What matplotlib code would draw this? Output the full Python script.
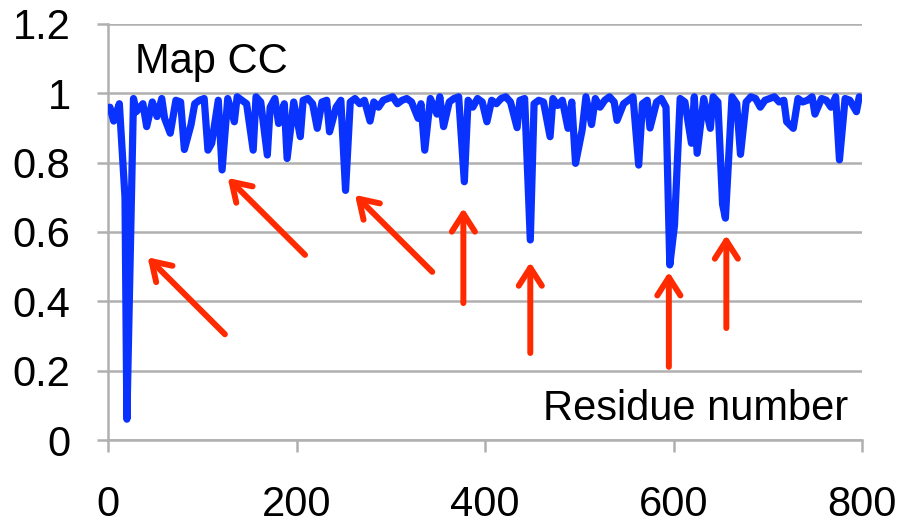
import numpy as np
import matplotlib
matplotlib.use('Agg')
import matplotlib.pyplot as plt
from matplotlib.ticker import FormatStrFormatter

plt.rcParams['font.family'] = ['Liberation Sans', 'DejaVu Sans']

# baseline map CC, residues 2, 7, 12, ... 797
base_cc = [
    0.96, 0.95, 0.97, 0.98, 0.97, 0.985, 0.98, 0.97, 0.99, 0.975, 0.98, 0.985, 0.97, 0.99, 0.98, 0.975, 0.985, 0.99, 0.97, 0.98,
    0.985, 0.97, 0.99, 0.98, 0.96, 0.985, 0.975, 0.99, 0.98, 0.97, 0.985, 0.99, 0.975, 0.98, 0.96, 0.985, 0.99, 0.97, 0.98, 0.975,
    0.99, 0.98, 0.985, 0.97, 0.99, 0.975, 0.98, 0.985, 0.96, 0.98, 0.99, 0.975, 0.985, 0.97, 0.98, 0.99, 0.975, 0.96, 0.98, 0.985,
    0.99, 0.97, 0.98, 0.985, 0.975, 0.99, 0.97, 0.98, 0.985, 0.965, 0.99, 0.98, 0.975, 0.985, 0.99, 0.97, 0.98, 0.96, 0.985, 0.975,
    0.99, 0.98, 0.97, 0.985, 0.99, 0.975, 0.96, 0.98, 0.985, 0.99, 0.97, 0.98, 0.975, 0.99, 0.985, 0.965, 0.98, 0.99, 0.975, 0.985,
    0.97, 0.99, 0.98, 0.985, 0.96, 0.98, 0.99, 0.975, 0.985, 0.97, 0.98, 0.99, 0.985, 0.97, 0.98, 0.99, 0.975, 0.985, 0.96, 0.98,
    0.99, 0.985, 0.975, 0.98, 0.99, 0.97, 0.985, 0.98, 0.99, 0.975, 0.98, 0.985, 0.99, 0.97, 0.98, 0.975, 0.99, 0.985, 0.96, 0.98,
    0.985, 0.99, 0.975, 0.98, 0.97, 0.99, 0.985, 0.975, 0.98, 0.99, 0.97, 0.985, 0.98, 0.96, 0.99, 0.975, 0.985, 0.98, 0.97, 0.99,
]
base_res = np.arange(2, 800, 5)

# dips
dip_res = [6, 18, 20, 30, 41, 52, 60, 66, 81, 88, 106, 110, 121, 134, 154, 169, 181, 190,
           204, 222, 235, 252, 278, 329, 336, 349, 356, 378, 402, 434, 448, 469, 488, 496,
           503, 513, 540, 563, 575, 596, 601, 619, 625, 639, 652, 655, 671, 720, 727, 750,
           776, 794]
dip_cc = [0.92, 0.70, 0.06, 0.947, 0.904, 0.933, 0.928, 0.885, 0.838, 0.909, 0.836, 0.856, 0.779, 0.918, 0.836, 0.822, 0.913, 0.812,
          0.875, 0.899, 0.889, 0.72, 0.92, 0.928, 0.836, 0.94, 0.904, 0.745, 0.918, 0.901, 0.577, 0.875, 0.899, 0.798,
          0.894, 0.91, 0.922, 0.793, 0.90, 0.505, 0.62, 0.856, 0.827, 0.899, 0.68, 0.64, 0.824, 0.918, 0.899, 0.94,
          0.808, 0.947]

# arrows: (tail x, tail y, head x, head y)
arrows = [(124, 0.305, 42, 0.527),
          (209, 0.534, 127, 0.756),
          (344, 0.485, 262, 0.707),
          (377, 0.395, 377, 0.669),
          (448, 0.251, 448, 0.513),
          (595, 0.211, 595, 0.485),
          (656, 0.323, 656, 0.591)]

dip_arr = np.array(dip_res)
keep = [i for i, r in enumerate(base_res) if np.min(np.abs(dip_arr - r)) > 2]
res = np.concatenate([base_res[keep], dip_arr])
cc = np.concatenate([np.array(base_cc)[keep], np.array(dip_cc)])
order = np.argsort(res)
res, cc = res[order], cc[order]

grey = '#b0b0b0'
fig = plt.figure(figsize=(9.01, 5.25), dpi=100)
ax = fig.add_axes([0.1199, 0.1619, 0.8369, 0.7924])

ax.plot(res, cc, color='#0a32ff', lw=5.2, solid_joinstyle='round',
        solid_capstyle='round', zorder=3)

for tx, ty, hx, hy in arrows:
    ax.annotate('', xy=(hx, hy), xytext=(tx, ty),
                arrowprops=dict(arrowstyle='->,head_length=0.5,head_width=0.32',
                                lw=4.3, color='#ff2a00', mutation_scale=26,
                                shrinkA=0, shrinkB=0), zorder=4)

ax.set_xlim(0, 800)
ax.set_ylim(0, 1.2)
ax.set_xticks([0, 200, 400, 600, 800])
ax.set_yticks([0, 0.2, 0.4, 0.6, 0.8, 1.0, 1.2])
ax.yaxis.set_major_formatter(FormatStrFormatter('%g'))
ax.grid(axis='y', color=grey, lw=1.8, zorder=0)
ax.set_axisbelow(True)
for s in ['top', 'right']:
    ax.spines[s].set_visible(False)
for s in ['left', 'bottom']:
    ax.spines[s].set_color(grey)
    ax.spines[s].set_linewidth(1.8)
ax.tick_params(axis='y', colors=grey, length=8, width=1.8, pad=19, labelsize=30, labelcolor='black')
ax.tick_params(axis='x', colors=grey, length=8.5, width=1.8, pad=24, labelsize=30, labelcolor='black')

ax.text(28.5, 1.059, 'Map CC', fontsize=30, va='baseline', ha='left')
ax.text(461, 0.058, 'Residue number', fontsize=30, va='baseline', ha='left')

fig.savefig('out.png', dpi=100)
